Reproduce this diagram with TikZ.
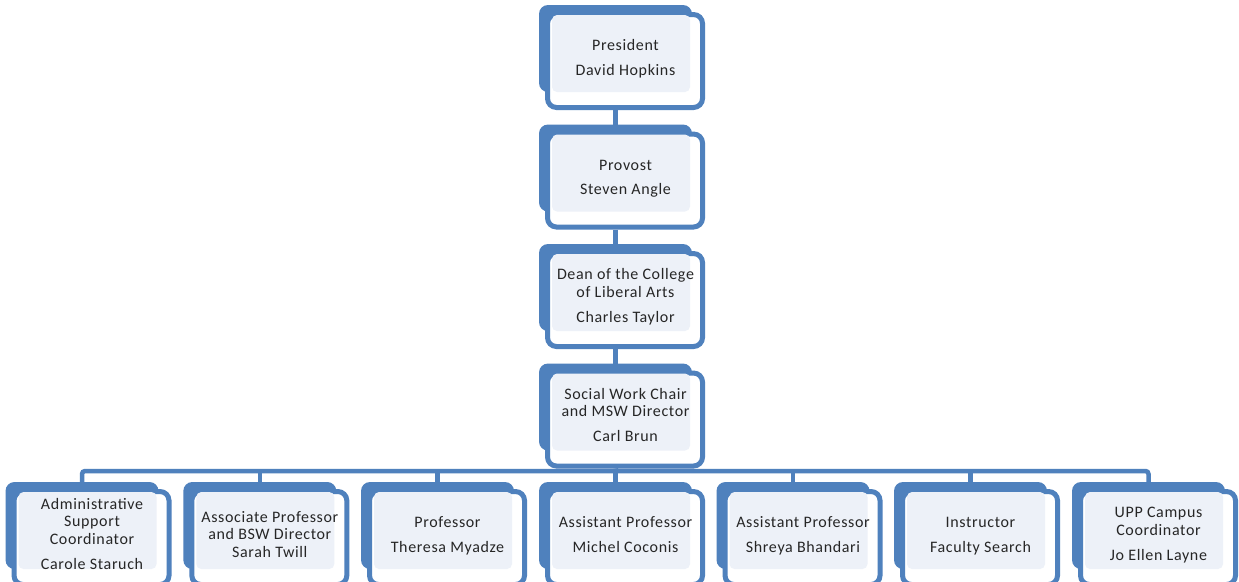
\documentclass[tikz,border=0pt]{standalone}
\usepackage{fontspec}
\setmainfont{Carlito}[LetterSpace=4]
\definecolor{obl}{HTML}{4F81BD}
\definecolor{oin}{HTML}{EDF1F8}
\definecolor{otx}{HTML}{262626}
\newcommand{\hs}{\rule{0pt}{14pt}}
% #1 name, #2 connector x, #3 top y, #4 first baseline offset, #5 text
\newcommand{\obox}[5]{%
  \node[backA] (#1) at (#2-0.5, #3+43.5) {};
  \node[frontB] (#1-f) at (#2+9, #3+56) {};
  \node[innerC] (#1-in) at (#2+5, #3+48.5) {};
  \node[lbl] (#1-t) at (#2+9.5, #3+#4-14) {\hs #5};
}
\begin{document}
\begin{tikzpicture}[x=1pt,y=-1pt,
  backA/.style={fill=obl, rounded corners=9pt, minimum width=153pt, minimum height=87pt, inner sep=0pt, outer sep=0pt},
  frontB/.style={draw=obl, line width=5pt, fill=white, rounded corners=9pt, minimum width=155pt, minimum height=93pt, inner sep=0pt},
  innerC/.style={fill=oin, rounded corners=5pt, minimum width=138pt, minimum height=77pt, inner sep=0pt, outer sep=0pt},
  lbl/.style={align=center, inner sep=0pt, text=otx, font=\fontsize{16}{17.75}\selectfont, anchor=north},
  conn/.style={draw=obl, line width=5pt},
  busline/.style={draw=obl, line width=4.5pt, rounded corners=3pt}]
\useasboundingbox (0,0) rectangle (1239,581);
\fill[white] (0,0) rectangle (1239,581);

\obox{pres}{616}{5}{45.5}{President\\[7pt]David Hopkins}
\obox{prov}{616}{124.5}{45.5}{Provost\\[7pt]Steven Angle}
\obox{dean}{616}{244}{35.5}{Dean of the College\\of Liberal Arts\\[7pt]Charles Taylor}
\obox{chair}{616}{363.5}{35.5}{Social Work Chair\\and MSW Director\\[7pt]Carl Brun}

\obox{b1}{82.5}{482}{27}{Administrative\\Support\\Coordinator\\[7pt]Carole Staruch}
\obox{b2}{260.3}{482}{40}{Associate Professor\\and BSW Director\\Sarah Twill}
\obox{b3}{438}{482}{45.5}{Professor\\[7pt]Theresa Myadze}
\obox{b4}{616}{482}{45.5}{Assistant Professor\\[7pt]Michel Coconis}
\obox{b5}{793.5}{482}{45.5}{Assistant Professor\\[7pt]Shreya Bhandari}
\obox{b6}{971}{482}{45.5}{Instructor\\[7pt]Faculty Search}
\obox{b7}{1149}{482}{35.5}{UPP Campus\\Coordinator\\[7pt]Jo Ellen Layne}

\coordinate (bus) at (616,471);
\draw[conn] (pres-f.south -| pres.center) -- (prov.north);
\draw[conn] (prov-f.south -| prov.center) -- (dean.north);
\draw[conn] (dean-f.south -| dean.center) -- (chair.north);
\draw[conn] (chair-f.south -| chair.center) -- (bus);
\draw[busline] (b1.north) -- (b1.north |- bus) -- (b7.north |- bus) -- (b7.north);
\foreach \n in {b2,b3,b4,b5,b6} \draw[busline] (\n.north |- bus) -- (\n.north);
\end{tikzpicture}
\end{document}
